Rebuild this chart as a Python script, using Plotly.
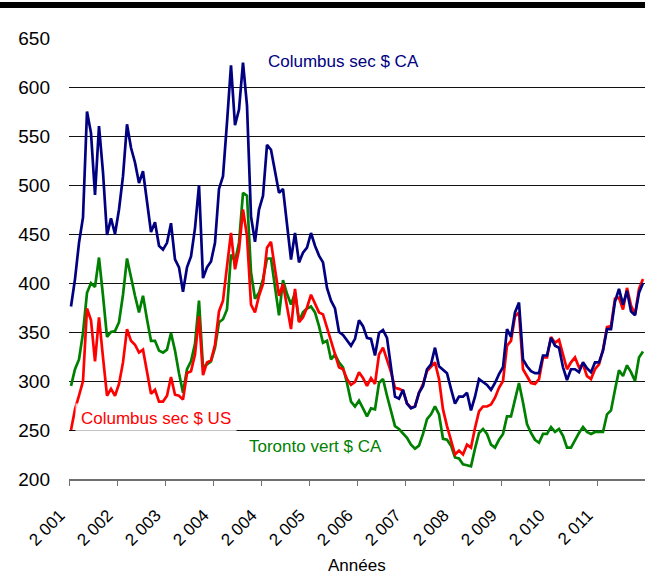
"""Prix Columbus sec ($ CA, $ US) et Toronto vert ($ CA), 2001-2011."""

import plotly.graph_objects as go

NAVY = "#000080"
RED = "#FF0000"
GREEN = "#008000"
INK = "#000000"
AXIS_GREY = "#707070"
FONT = "Liberation Sans, Arial, sans-serif"

# One value per period (12 periods per labelled year).
columbus_ca = [
    376, 404, 441, 467, 575, 553, 490, 560, 513, 449, 466, 450,
    475, 509, 562, 538, 523, 502, 514, 484, 452, 462, 438, 434,
    441, 461, 424, 416, 391, 416, 427, 456, 500, 405, 416, 422,
    441, 496, 509, 564, 622, 561, 577, 625, 581, 468, 442, 475,
    489, 541, 536, 514, 492, 496, 463, 424, 451, 421, 431, 436,
    451, 438, 428, 421, 395, 382, 374, 350, 347, 341, 336, 343,
    362, 356, 344, 343, 326, 349, 352, 344, 315, 284, 282, 291,
    277, 272, 274, 288, 295, 312, 317, 334, 315, 311, 308, 292,
    277, 284, 284, 288, 270, 284, 302, 299, 296, 291, 298, 307,
    314, 353, 345, 370, 380, 322, 315, 310, 308, 308, 326, 326,
    344, 336, 334, 314, 301, 312, 312, 309, 319, 313, 309, 319,
    319, 331, 353, 353, 381, 394, 378, 392, 371, 367, 390, 400,
]
columbus_us = [
    250, 271, 285, 300, 374, 362, 320, 365, 324, 285, 292, 285,
    297, 319, 353, 341, 337, 329, 332, 308, 287, 291, 279, 279,
    285, 304, 286, 285, 281, 308, 310, 327, 366, 306, 319, 321,
    337, 371, 382, 417, 451, 414, 434, 475, 448, 378, 370, 387,
    399, 436, 442, 414, 387, 399, 377, 353, 394, 360, 365, 375,
    388, 379, 370, 368, 354, 341, 327, 314, 312, 302, 296, 299,
    309, 303, 295, 303, 297, 327, 334, 322, 309, 293, 292, 290,
    277, 273, 274, 288, 297, 310, 315, 319, 302, 271, 254, 240,
    225, 229, 225, 235, 232, 252, 269, 274, 274, 276, 283, 293,
    300, 336, 341, 366, 370, 312, 305, 298, 297, 302, 324, 324,
    345, 339, 342, 327, 312, 319, 324, 314, 317, 305, 302, 312,
    317, 332, 355, 356, 384, 385, 373, 395, 377, 368, 394, 404,
]
toronto_ca = [
    295, 312, 322, 349, 390, 400, 396, 426, 387, 345, 350, 351,
    360, 388, 425, 405, 387, 370, 387, 363, 341, 341, 331, 329,
    332, 349, 331, 308, 288, 312, 320, 338, 382, 314, 317, 320,
    334, 360, 363, 373, 429, 422, 441, 492, 489, 411, 384, 390,
    404, 425, 425, 394, 367, 403, 389, 378, 390, 361, 370, 374,
    376, 370, 356, 339, 341, 322, 327, 319, 314, 298, 279, 274,
    280, 272, 264, 272, 271, 298, 302, 285, 268, 254, 251, 247,
    242, 235, 231, 234, 246, 261, 266, 274, 266, 241, 240, 234,
    222, 221, 215, 214, 213, 231, 247, 251, 246, 235, 232, 240,
    246, 264, 264, 281, 298, 278, 256, 247, 240, 237, 246, 246,
    253, 248, 251, 244, 232, 232, 240, 247, 253, 248, 246, 248,
    248, 248, 266, 270, 291, 311, 305, 316, 309, 300, 324, 330,
]

year_labels = [
    "2 001", "2 002", "2 003", "2 004", "2 004", "2 005",
    "2 006", "2 007", "2 008", "2 009", "2 010", "2 011",
]
y_ticks = list(range(200, 651, 50))

PERIODS_PER_LABEL = 12
PLOT_W = 576
PLOT_H = 441


def _series(values, name, colour):
    return go.Scatter(
        x=list(range(len(values))),
        y=values,
        name=name,
        mode="lines",
        line=dict(color=colour, width=2.7),
        hovertemplate=name + "<br>%{y}<extra></extra>",
    )


def _label(text, x, y, colour):
    # Excel-style series label sitting on a pale box over the grid.
    return dict(
        text=text,
        x=x,
        y=y,
        xref="x",
        yref="y",
        showarrow=False,
        font=dict(color=colour, size=17, family=FONT),
        bgcolor="rgba(255,255,255,0.75)",
        borderpad=5,
    )


n = len(columbus_ca)
tick_pos = [k * PERIODS_PER_LABEL - 0.5 for k in range(len(year_labels) + 1)]

fig = go.Figure()
fig.add_trace(_series(toronto_ca, "Toronto vert $ CA", GREEN))
fig.add_trace(_series(columbus_us, "Columbus sec $ US", RED))
fig.add_trace(_series(columbus_ca, "Columbus sec $ CA", NAVY))

fig.update_layout(
    width=645,
    height=575,
    margin=dict(l=69, r=0, t=38, b=96, autoexpand=False),
    paper_bgcolor="white",
    plot_bgcolor="white",
    font=dict(family=FONT, size=19, color=INK),
    showlegend=False,
    annotations=[
        _label("Columbus sec $ CA", 68.2, 626, NAVY),
        _label("Columbus sec $ US", 21.2, 262, RED),
        _label("Toronto vert $ CA", 61.2, 233, GREEN),
        # x-axis title, placed under the slanted year labels
        dict(
            text="Années",
            xref="paper",
            yref="paper",
            x=0.5,
            y=-86 / PLOT_H,
            yanchor="middle",
            showarrow=False,
            font=dict(size=17, color=INK),
        ),
    ],
    shapes=[
        # heavy rule across the top of the page
        dict(
            type="rect",
            xref="paper",
            yref="paper",
            x0=-69 / PLOT_W,
            x1=1.01,
            y0=1 + 30 / PLOT_H,
            y1=1 + 36 / PLOT_H,
            fillcolor=INK,
            line=dict(width=0),
        )
    ],
)
fig.update_xaxes(
    range=[-0.5, n - 0.5],
    tickmode="array",
    tickvals=tick_pos,
    ticktext=year_labels + [""],
    tickangle=-45,
    tickfont=dict(size=17),
    ticks="outside",
    ticklen=5,
    tickcolor=AXIS_GREY,
    ticklabelstandoff=13,
    ticklabelshift=-9,
    showline=True,
    linecolor=AXIS_GREY,
    linewidth=1.5,
    showgrid=False,
    zeroline=False,
    automargin=False,
)
fig.update_yaxes(
    range=[200, 650],
    tickmode="array",
    tickvals=y_ticks,
    showgrid=True,
    gridcolor="#111111",
    gridwidth=1.2,
    showline=False,
    zeroline=False,
    ticks="",
    ticklabelstandoff=18,
    automargin=False,
)

# the page body has a default 8px margin; drop it so the figure sits at 0,0
fig.write_html(
    "out.html",
    config={"displayModeBar": False},
    post_script="document.body.style.margin = '0';",
)
